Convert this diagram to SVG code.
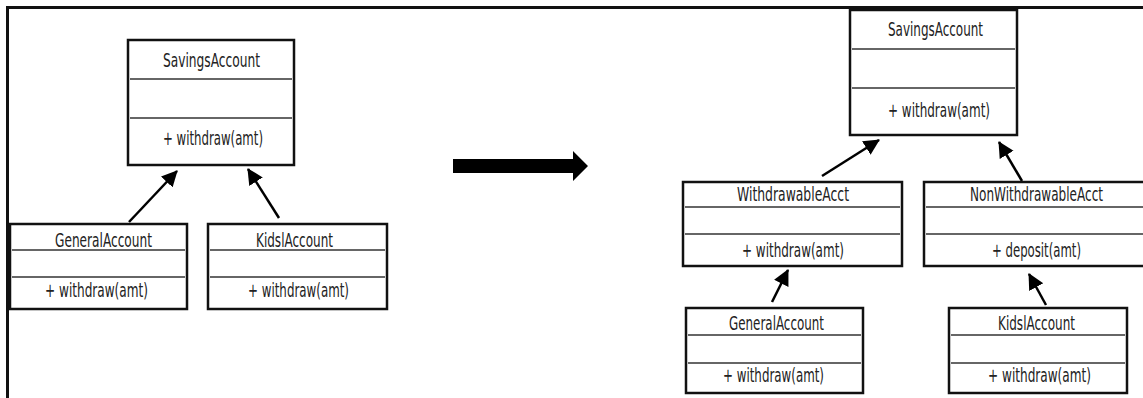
<svg xmlns="http://www.w3.org/2000/svg" width="1143" height="398" viewBox="0 0 1143 398">
<style>
.box{fill:#fff;stroke:#111;stroke-width:2.5}
.div{stroke:#333;stroke-width:1.6}
.t{font-family:"Liberation Sans Narrow","DejaVu Sans Condensed","Liberation Sans",sans-serif;font-size:19px;fill:#222;text-anchor:middle}
.c{stroke:#000;stroke-width:2.5;fill:none;marker-end:url(#ah)}
</style>
<defs>
<marker id="ah" markerUnits="userSpaceOnUse" markerWidth="18" markerHeight="18" refX="15" refY="8" orient="auto">
<path d="M0,0 L16,8 L0,16 z" fill="#000"/>
</marker>
</defs>
<rect x="0" y="0" width="1143" height="398" fill="#fff"/>
<path d="M7.5,398 V7.5 H1143" fill="none" stroke="#111" stroke-width="3"/>

<g id="connectors">
<line class="c" x1="129" y1="222" x2="177" y2="171"/>
<line class="c" x1="279" y1="218" x2="248" y2="169"/>
<polygon points="453,159 573,159 573,151 588,166 573,181 573,173 453,173" fill="#000"/>
<line class="c" x1="822" y1="176" x2="879" y2="140"/>
<line class="c" x1="1022" y1="181" x2="999" y2="142"/>
<line class="c" x1="772" y1="302" x2="788" y2="270"/>
<line class="c" x1="1046" y1="305" x2="1029" y2="274"/>
</g>

<g id="left-savings">
<rect class="box" x="128" y="40" width="166" height="125"/>
<line class="div" x1="130" y1="79" x2="292" y2="79"/>
<line class="div" x1="130" y1="118" x2="292" y2="118"/>
<text class="t" x="211.5" y="67" textLength="97" lengthAdjust="spacingAndGlyphs">SavingsAccount</text>
<text class="t" x="213" y="145" textLength="100" lengthAdjust="spacingAndGlyphs">+ withdraw(amt)</text>
</g>

<g id="left-general">
<rect class="box" x="10" y="224" width="177" height="85"/>
<line class="div" x1="12" y1="250" x2="185" y2="250"/>
<line class="div" x1="12" y1="277" x2="185" y2="277"/>
<text class="t" x="103.5" y="247" textLength="97" lengthAdjust="spacingAndGlyphs">GeneralAccount</text>
<text class="t" x="96.5" y="297" textLength="103" lengthAdjust="spacingAndGlyphs">+ withdraw(amt)</text>
</g>

<g id="left-kids">
<rect class="box" x="208" y="224" width="179" height="85"/>
<line class="div" x1="210" y1="250" x2="385" y2="250"/>
<line class="div" x1="210" y1="277" x2="385" y2="277"/>
<text class="t" x="294.5" y="247" textLength="77" lengthAdjust="spacingAndGlyphs">KidslAccount</text>
<text class="t" x="298.5" y="297" textLength="101" lengthAdjust="spacingAndGlyphs">+ withdraw(amt)</text>
</g>

<g id="right-savings">
<rect class="box" x="850" y="10" width="167" height="125"/>
<line class="div" x1="852" y1="49" x2="1015" y2="49"/>
<line class="div" x1="852" y1="88" x2="1015" y2="88"/>
<text class="t" x="935.5" y="36" textLength="95" lengthAdjust="spacingAndGlyphs">SavingsAccount</text>
<text class="t" x="939" y="117" textLength="102" lengthAdjust="spacingAndGlyphs">+ withdraw(amt)</text>
</g>

<g id="withdrawable">
<rect class="box" x="683" y="182" width="219" height="84"/>
<line class="div" x1="685" y1="207" x2="900" y2="207"/>
<line class="div" x1="685" y1="234" x2="900" y2="234"/>
<text class="t" x="793" y="201" textLength="112" lengthAdjust="spacingAndGlyphs">WithdrawableAcct</text>
<text class="t" x="793" y="257" textLength="102" lengthAdjust="spacingAndGlyphs">+ withdraw(amt)</text>
</g>

<g id="nonwithdrawable">
<rect class="box" x="924" y="182" width="226" height="84"/>
<line class="div" x1="926" y1="207" x2="1143" y2="207"/>
<line class="div" x1="926" y1="234" x2="1143" y2="234"/>
<text class="t" x="1036.5" y="201" textLength="133" lengthAdjust="spacingAndGlyphs">NonWithdrawableAcct</text>
<text class="t" x="1036.5" y="257" textLength="89" lengthAdjust="spacingAndGlyphs">+ deposit(amt)</text>
</g>

<g id="right-general">
<rect class="box" x="686" y="308" width="177" height="85"/>
<line class="div" x1="688" y1="335" x2="861" y2="335"/>
<line class="div" x1="688" y1="363" x2="861" y2="363"/>
<text class="t" x="776.5" y="330" textLength="95" lengthAdjust="spacingAndGlyphs">GeneralAccount</text>
<text class="t" x="773.5" y="382" textLength="101" lengthAdjust="spacingAndGlyphs">+ withdraw(amt)</text>
</g>

<g id="right-kids">
<rect class="box" x="949" y="308" width="178" height="85"/>
<line class="div" x1="951" y1="335" x2="1125" y2="335"/>
<line class="div" x1="951" y1="363" x2="1125" y2="363"/>
<text class="t" x="1036.5" y="330" textLength="77" lengthAdjust="spacingAndGlyphs">KidslAccount</text>
<text class="t" x="1039.5" y="382" textLength="103" lengthAdjust="spacingAndGlyphs">+ withdraw(amt)</text>
</g>
</svg>
